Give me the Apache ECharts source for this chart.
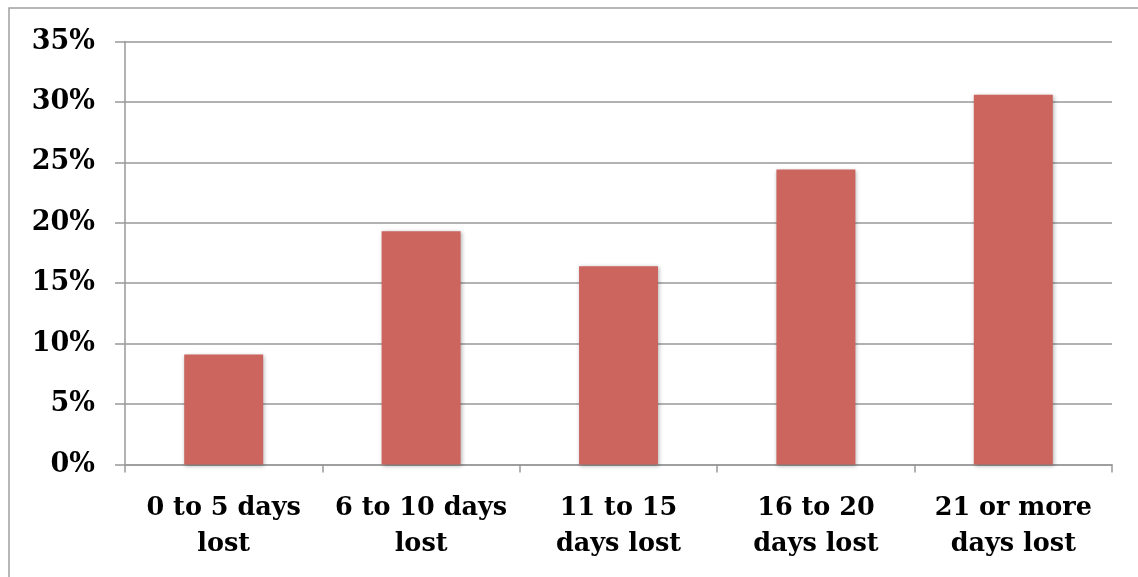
<!DOCTYPE html>
<html>
<head>
<meta charset="utf-8">
<script src="https://cdn.jsdelivr.net/npm/echarts@6/dist/echarts.min.js"></script>
<style>
  html, body { margin: 0; padding: 0; background: #fff; }
  #chart { width: 1138px; height: 577px; }
</style>
</head>
<body>
<div id="chart"></div>
<script>
// Share of cases by number of days lost
const categories = ['0 to 5 days\nlost', '6 to 10 days\nlost', '11 to 15\ndays lost', '16 to 20\ndays lost', '21 or more\ndays lost'];
const shares = [9.1, 19.3, 16.4, 24.4, 30.6];
const yTicks = [0, 5, 10, 15, 20, 25, 30, 35];

const gridColor = '#999999';
const labelFont = { fontFamily: 'DejaVu Serif', fontWeight: 'bold', color: '#000' };

const chart = echarts.init(document.getElementById('chart'), null, { renderer: 'canvas' });
chart.setOption({
  animation: false,
  backgroundColor: '#ffffff',
  graphic: [{
    type: 'rect',
    shape: { x: 9, y: 8, width: 1200, height: 650 },
    style: { fill: 'none', stroke: '#a0a0a0', lineWidth: 1.5 },
    silent: true, z: -1
  }],
  grid: { left: 125, right: 26, top: 41.5, bottom: 112.5, containLabel: false },
  xAxis: {
    type: 'category',
    data: categories,
    axisLine: { show: true, lineStyle: { color: gridColor, width: 1.5 } },
    axisTick: { show: true, length: 8, alignWithLabel: false, lineStyle: { color: gridColor, width: 1.5 } },
    axisLabel: Object.assign({ margin: 26, lineHeight: 36, interval: 0, fontSize: 25.5 }, labelFont)
  },
  yAxis: {
    type: 'value',
    min: yTicks[0],
    max: yTicks[yTicks.length - 1],
    interval: 5,
    axisLine: { show: true, lineStyle: { color: gridColor, width: 1.5 } },
    axisTick: { show: true, length: 10, lineStyle: { color: gridColor, width: 1.5 } },
    splitLine: { show: true, lineStyle: { color: gridColor, width: 1.5 } },
    axisLabel: Object.assign({ margin: 30, fontSize: 27, padding: [6, 0, 0, 0], formatter: v => v + '%' }, labelFont)
  },
  series: [{
    type: 'bar',
    data: shares,
    barWidth: '40%',
    itemStyle: {
      color: '#cb655e',
      shadowColor: 'rgba(0,0,0,0.3)',
      shadowBlur: 4,
      shadowOffsetX: 1,
      shadowOffsetY: 1
    }
  }]
});
</script>
</body>
</html>
